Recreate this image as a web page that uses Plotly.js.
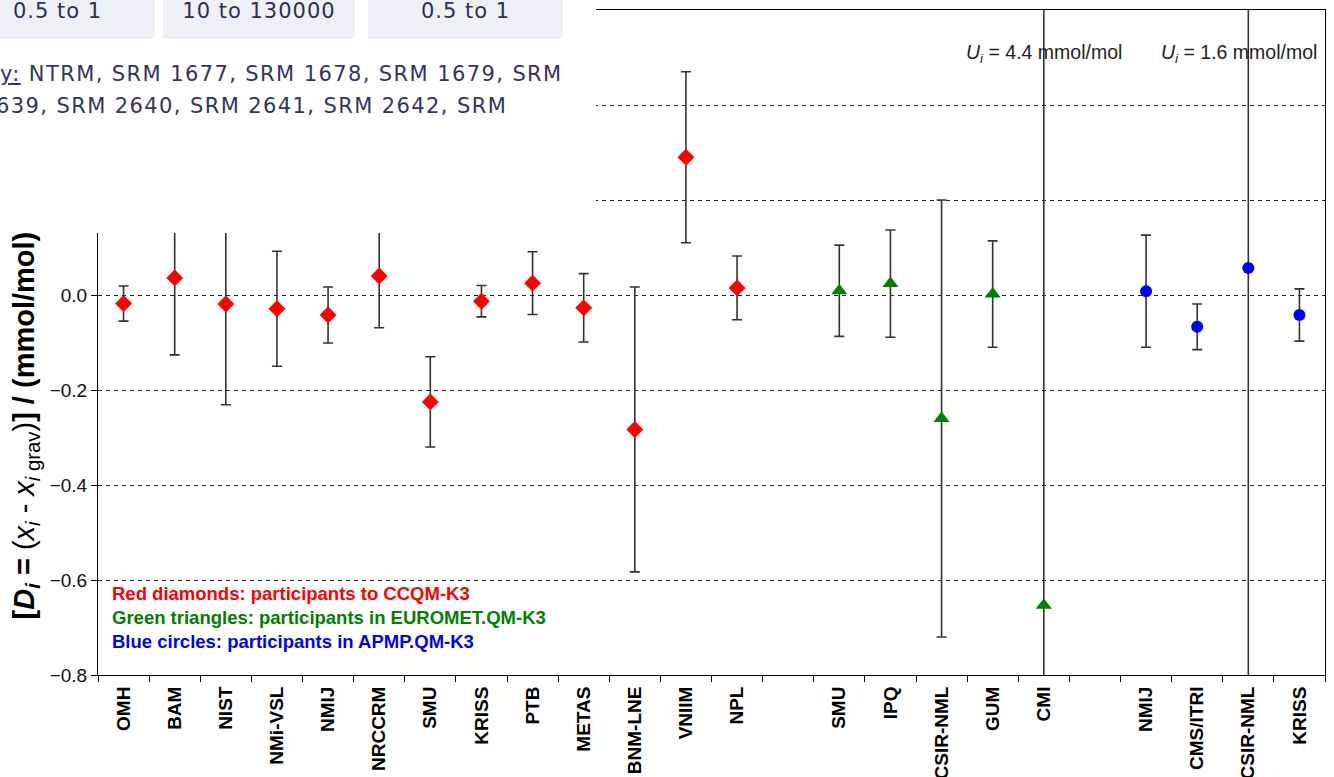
<!DOCTYPE html>
<html>
<head>
<meta charset="utf-8">
<script src="https://cdn.plot.ly/plotly-3.0.1.min.js"></script>
<style>
  html, body { margin: 0; padding: 0; background: #fff; }
  #wrap { position: relative; width: 1334px; height: 777px; overflow: hidden; }
  #chart { position: absolute; left: 0; top: 0; width: 1334px; height: 777px; }
  #page { position: absolute; left: 0; top: 0; width: 596px; height: 233px; background: #fff; z-index: 10; overflow: hidden;
          font-family: "DejaVu Sans", Verdana, sans-serif; color: #333366; font-size: 21px; letter-spacing: 1.4px; }
  .cell { position: absolute; top: -14px; height: 53px; line-height: 50px; background: #eef0f5; text-align: center; color: #2f2f55; letter-spacing: 1px; }
  .line { position: absolute; white-space: nowrap; line-height: 26px; }
</style>
</head>
<body>
<div id="wrap">
  <div id="chart"></div>
  <div id="page">
    <div class="cell" style="left:-40px; width:195px;">0.5 to 1</div>
    <div class="cell" style="left:163px; width:192px;">10 to 130000</div>
    <div class="cell" style="left:368px; width:195px;">0.5 to 1</div>
    <div class="line" style="left:0px; top:61px;"><u>y:</u> NTRM, SRM 1677, SRM 1678, SRM 1679, SRM</div>
    <div class="line" style="left:-4px; top:93px;">639, SRM 2640, SRM 2641, SRM 2642, SRM</div>
  </div>
</div>
<script>
// Category labels along x (empty strings are the gaps between the three comparisons)
const labels = ["OMH","BAM","NIST","NMi-VSL","NMIJ","NRCCRM","SMU","KRISS","PTB","METAS","BNM-LNE","VNIIM","NPL","",
                "SMU","IPQ","CSIR-NML","GUM","CMI","",
                "NMIJ","CMS/ITRI","CSIR-NML","KRISS"];

// CCQM-K3 (red diamonds)
const redLabs = ["OMH","BAM","NIST","NMi-VSL","NMIJ","NRCCRM","SMU","KRISS","PTB","METAS","BNM-LNE","VNIIM","NPL"];
const redD    = [-0.018, 0.036, -0.019, -0.029, -0.042, 0.040, -0.225, -0.013, 0.025, -0.027, -0.283, 0.290, 0.015];
const redU    = [0.037, 0.162, 0.212, 0.121, 0.059, 0.109, 0.095, 0.033, 0.066, 0.072, 0.300, 0.180, 0.067];

// EUROMET.QM-K3 (green triangles)
const greenLabs = ["SMU","IPQ","CSIR-NML","GUM","CMI"];
const greenD    = [0.009, 0.024, -0.260, 0.002, -0.653];
const greenU    = [0.096, 0.113, 0.460, 0.112, 4.4];

// APMP.QM-K3 (blue circles)
const blueLabs = ["NMIJ","CMS/ITRI","CSIR-NML","KRISS"];
const blueD    = [0.008, -0.067, 0.057, -0.042];
const blueU    = [0.118, 0.048, 1.6, 0.055];

// y tick values
const yTicks = [-0.8, -0.6, -0.4, -0.2, 0.0, 0.2, 0.4];

// slot positions of each group on the x axis
const redStart = 0, greenStart = 14, blueStart = 20;
const slots = (start, arr) => arr.map((_, i) => start + i);

const errStyle = (arr) => ({type: 'data', array: arr, visible: true, color: '#333333', thickness: 1.6, width: 5});

const traces = [
  {x: slots(redStart, redLabs), y: redD, text: redLabs, type: 'scatter', mode: 'markers', hoverinfo: 'text+y',
   marker: {symbol: 'diamond', size: 13, color: '#FF0000'}, error_y: errStyle(redU)},
  {x: slots(greenStart, greenLabs), y: greenD, text: greenLabs, type: 'scatter', mode: 'markers', hoverinfo: 'text+y',
   marker: {symbol: 'triangle-up', size: 14, color: '#008000'}, error_y: errStyle(greenU)},
  {x: slots(blueStart, blueLabs), y: blueD, text: blueLabs, type: 'scatter', mode: 'markers', hoverinfo: 'text+y',
   marker: {symbol: 'circle', size: 12, color: '#0000FF'}, error_y: errStyle(blueU)}
];

const tickIdx = labels.map((l, i) => i).filter(i => labels[i] !== "");
const boundaries = labels.map((_, i) => i - 0.5).concat([labels.length - 0.5]);

const font = "Liberation Sans, Arial, sans-serif";
const gapCMI = greenStart + greenLabs.indexOf("CMI");
const gapCSIR = blueStart + blueLabs.indexOf("CSIR-NML");

const layout = {
  width: 1334, height: 777,
  margin: {l: 98, r: 9, t: 10, b: 102, autoexpand: false},
  paper_bgcolor: '#ffffff', plot_bgcolor: '#ffffff',
  showlegend: false,
  font: {family: font, color: '#111111'},
  xaxis: {
    range: [-0.5, labels.length - 0.5],
    tickmode: 'array', tickvals: tickIdx, ticktext: tickIdx.map(i => labels[i]),
    tickangle: -90, ticks: 'outside', ticklen: 3, tickcolor: 'rgba(0,0,0,0)',
    tickfont: {family: font, size: 19, color: '#000000', weight: 'bold'},
    showgrid: false, zeroline: false,
    showline: true, linecolor: '#000000', linewidth: 1, mirror: true,
    minor: {tickmode: 'array', tickvals: boundaries, ticks: 'outside', ticklen: 6, tickcolor: '#000000', tickwidth: 1, showgrid: false}
  },
  yaxis: {
    range: [-0.8, 0.6],
    tickmode: 'array', tickvals: yTicks, tickformat: '.1f',
    ticks: 'outside', ticklen: 6, tickcolor: '#000000',
    tickfont: {family: font, size: 19, color: '#111111'},
    showgrid: true, gridcolor: '#222222', gridwidth: 1, griddash: '4px,4px',
    zeroline: false,
    showline: true, linecolor: '#000000', linewidth: 1, mirror: true
  },
  annotations: [
    {xref: 'paper', yref: 'paper', x: -0.059, y: 0.08, xanchor: 'center', yanchor: 'bottom', textangle: -90, showarrow: false,
     text: "<b>[<i>D</i><sub><i>i</i></sub> =</b> (<i>x</i><sub><i>i</i></sub> - <i>x</i><sub><i>i</i> grav</sub>)<b>] / (mmol/mol)</b>",
     font: {family: font, size: 29, color: '#000000'}},
    {xref: 'x', yref: 'paper', x: gapCMI, y: 0.935, xanchor: 'center', yanchor: 'middle', showarrow: false,
     text: "<i>U</i><sub><i>i</i></sub> = 4.4 mmol/mol", font: {family: font, size: 19.5, color: '#222222'}},
    {xref: 'x', yref: 'paper', x: gapCSIR, y: 0.935, xanchor: 'center', yanchor: 'middle', xshift: -9, showarrow: false,
     text: "<i>U</i><sub><i>i</i></sub> = 1.6 mmol/mol", font: {family: font, size: 19.5, color: '#222222'}},
    {xref: 'paper', yref: 'paper', x: 0.0098, y: 0.122, xanchor: 'left', yanchor: 'middle', showarrow: false,
     text: "<b>Red diamonds: participants to CCQM-K3</b>", font: {family: font, size: 18.5, color: '#FF0000'}},
    {xref: 'paper', yref: 'paper', x: 0.0098, y: 0.086, xanchor: 'left', yanchor: 'middle', showarrow: false,
     text: "<b>Green triangles: participants in EUROMET.QM-K3</b>", font: {family: font, size: 18.5, color: '#008000'}},
    {xref: 'paper', yref: 'paper', x: 0.0098, y: 0.050, xanchor: 'left', yanchor: 'middle', showarrow: false,
     text: "<b>Blue circles: participants in APMP.QM-K3</b>", font: {family: font, size: 18.5, color: '#0000FF'}}
  ]
};

Plotly.newPlot('chart', traces, layout, {displayModeBar: false, staticPlot: true});
</script>
</body>
</html>
